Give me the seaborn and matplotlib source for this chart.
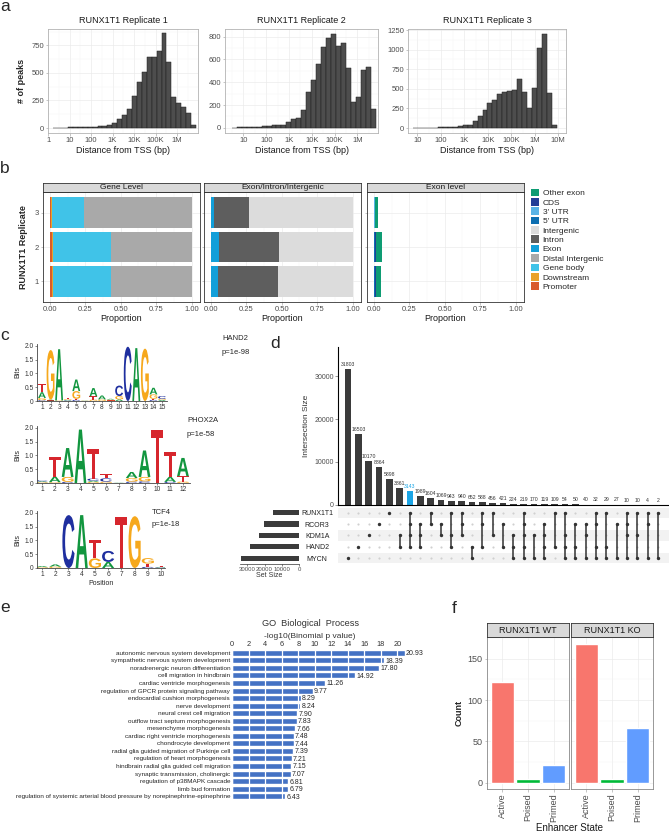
import numpy as np
import pandas as pd
import matplotlib
matplotlib.use("Agg")
import matplotlib.pyplot as plt
from matplotlib.ticker import AutoMinorLocator
from matplotlib.textpath import TextPath
from matplotlib.patches import PathPatch, Patch
from matplotlib.font_manager import FontProperties
from matplotlib.transforms import Affine2D
import seaborn as sns

# ---------------- data ----------------
# a: distance of peaks from TSS (counts per log10 bin)
rep1_counts = [2, 3, 4, 6, 7, 8, 9, 10, 12, 14, 20, 30, 50, 80, 120, 170, 290, 415,
               510, 645, 640, 695, 860, 600, 280, 225, 190, 135, 25]
rep2_counts = [3, 4, 5, 6, 8, 9, 12, 15, 26, 23, 29, 47, 82, 88, 160, 315, 417, 563,
               708, 790, 825, 717, 745, 520, 227, 270, 505, 533, 165]
rep3_counts = [2, 3, 4, 5, 6, 8, 9, 13, 17, 25, 34, 42, 85, 148, 225, 322, 352, 436,
               458, 470, 479, 627, 466, 254, 508, 1025, 1200, 450, 34]
rep_log_range = [(0.23, 6.89), (0.49, 6.80), (0.83, 6.93)]
tss_labels = ["1", "10", "100", "1K", "10K", "100K", "1M", "10M"]

# b: genomic annotation proportions (replicate 1, 2, 3)
replicates = [1, 2, 3]
gene_promoter = [0.016, 0.016, 0.010]
gene_downstream = [0.006, 0.007, 0.004]
gene_body = [0.408, 0.407, 0.226]
gene_distal = [0.570, 0.570, 0.760]
eii_exon = [0.050, 0.055, 0.020]
eii_intron = [0.425, 0.425, 0.250]
eii_intergenic = [0.525, 0.520, 0.730]
exl_utr5 = [0.004, 0.004, 0.003]
exl_utr3 = [0.003, 0.003, 0.002]
exl_cds = [0.005, 0.006, 0.003]
exl_other = [0.038, 0.042, 0.017]

# c: motif logos, letters stacked bottom -> top (bits)
hand2_motif = [
    [("C", 0.03), ("G", 0.08), ("A", 0.21), ("T", 0.30)],
    [("T", 0.02), ("A", 0.03), ("G", 1.80)],
    [("G", 0.02), ("A", 1.86)],
    [("C", 0.02), ("A", 0.02), ("G", 0.03), ("T", 0.03)],
    [("C", 0.04), ("T", 0.04), ("G", 0.28), ("A", 0.42)],
    [("A", 0.01), ("G", 0.01)],
    [("G", 0.05), ("T", 0.12), ("A", 0.30)],
    [("G", 0.06), ("A", 0.14)],
    [("T", 0.02), ("G", 0.03), ("A", 0.03)],
    [("A", 0.06), ("G", 0.12), ("C", 0.38)],
    [("C", 1.97)],
    [("A", 1.92)],
    [("G", 1.90)],
    [("C", 0.04), ("T", 0.04), ("G", 0.16), ("A", 0.24)],
    [("A", 0.04), ("G", 0.04), ("C", 0.10)],
]
phox2a_motif = [
    [("G", 0.03), ("A", 0.03), ("C", 0.04)],
    [("G", 0.03), ("A", 0.20), ("T", 0.73)],
    [("C", 0.04), ("G", 0.18), ("A", 1.05)],
    [("A", 1.94)],
    [("G", 0.04), ("A", 0.04), ("C", 0.08), ("T", 1.08)],
    [("G", 0.05), ("C", 0.12), ("T", 0.15)],
    [("A", 0.01)],
    [("C", 0.05), ("G", 0.13), ("A", 0.22)],
    [("C", 0.06), ("G", 0.16), ("A", 0.96)],
    [("T", 1.94)],
    [("C", 0.04), ("A", 0.18), ("T", 0.90)],
    [("G", 0.05), ("T", 0.20), ("A", 0.66)],
]
tcf4_motif = [
    [("G", 0.03), ("A", 0.04)],
    [("G", 0.05), ("A", 0.08)],
    [("C", 1.92)],
    [("A", 1.92)],
    [("G", 0.35), ("T", 0.65)],
    [("A", 0.22), ("C", 0.40)],
    [("T", 1.85)],
    [("G", 1.88)],
    [("C", 0.04), ("T", 0.12), ("G", 0.20)],
    [("C", 0.02), ("A", 0.02), ("T", 0.02)],
]
motif_names = ["HAND2", "PHOX2A", "TCF4"]
motif_pvals = ["p=1e-98", "p=1e-58", "p=1e-18"]

# d: UpSet intersections
set_names = ["RUNX1T1", "RCOR3", "KDM1A", "HAND2", "MYCN"]
set_codes = "RCKHM"
set_sizes = [14900, 20100, 23000, 28300, 33500]
combos = ["M", "H", "K", "C", "R", "KH", "RCKH", "CKH", "RC", "CK", "RKH", "RCK", "HM",
          "RCH", "RK", "CH", "KHM", "RCKHM", "KM", "CKHM", "RH", "RKHM", "CHM", "CKM",
          "RCHM", "RHM", "CM", "RCKM", "RKM", "RCM", "RM"]
inter_sizes = [31803, 16503, 10170, 8864, 5898, 3861, 3143, 1989, 1604, 1069, 943, 940,
               652, 588, 456, 421, 224, 219, 170, 119, 109, 54, 50, 40, 32, 29, 27, 10,
               10, 4, 2]
highlight = "RCKH"

# e: GO biological process
go_terms = ["autonomic nervous system development",
            "sympathetic nervous system development",
            "noradrenergic neuron differentiation",
            "cell migration in hindbrain",
            "cardiac ventricle morphogenesis",
            "regulation of GPCR protein signaling pathway",
            "endocardial cushion morphogenesis",
            "nerve development",
            "neural crest cell migration",
            "outflow tract septum morphogenesis",
            "mesenchyme morphogenesis",
            "cardiac right ventricle morphogenesis",
            "chondrocyte development",
            "radial glia guided migration of Purkinje cell",
            "regulation of heart morphogenesis",
            "hindbrain radial glia guided cell migration",
            "synaptic transmission, cholinergic",
            "regulation of p38MAPK cascade",
            "limb bud formation",
            "regulation of systemic arterial blood pressure by norepinephrine-epinephrine"]
go_values = [20.93, 18.39, 17.80, 14.92, 11.26, 9.77, 8.29, 8.24, 7.90, 7.83, 7.66,
             7.48, 7.44, 7.39, 7.21, 7.15, 7.07, 6.81, 6.79, 6.43]

# f: enhancer states
enh_states = ["Active", "Poised", "Primed"]
wt_counts = [122, 5, 22]
ko_counts = [168, 5, 66]

# ---------------- style ----------------
sns.set_theme(style="white")
plt.rcParams["font.family"] = ["Liberation Sans", "DejaVu Sans"]
plt.rcParams["axes.unicode_minus"] = False

W, H = 669, 833
fig = plt.figure(figsize=(W / 100, H / 100), dpi=100)


def add_ax(x0, y0, x1, y1, **kw):
    return fig.add_axes([x0 / W, 1 - y1 / H, (x1 - x0) / W, (y1 - y0) / H], **kw)


def gg(ax, edge="#B3B3B3", lw=0.6):
    ax.set_facecolor("white")
    ax.grid(True, which="major", color="#EBEBEB", lw=0.5)
    ax.grid(True, which="minor", color="#F4F4F4", lw=0.3)
    ax.set_axisbelow(True)
    for s in ax.spines.values():
        s.set_visible(True)
        s.set_color(edge)
        s.set_linewidth(lw)
    ax.tick_params(which="major", length=1.8, width=0.4, color="#999999",
                   labelsize=5.5, labelcolor="#4D4D4D", pad=1, bottom=True, left=True)
    ax.tick_params(which="minor", length=0)


def strip(x0, y0, x1, y1, text, size=6):
    s = add_ax(x0, y0, x1, y1)
    s.set_facecolor("#D9D9D9")
    s.set_xticks([])
    s.set_yticks([])
    for sp in s.spines.values():
        sp.set_color("#333333")
        sp.set_linewidth(0.6)
    s.text(0.5, 0.45, text, ha="center", va="center", fontsize=size, color="#1A1A1A",
           transform=s.transAxes)


def panel_label(x, y, t):
    fig.text(x / W, 1 - y / H, t, fontsize=12.5, ha="left", va="baseline")


panel_label(0, 11, "a")
panel_label(0, 173, "b")
panel_label(0, 340, "c")
panel_label(270, 348, "d")
panel_label(0, 612, "e")
panel_label(452, 613, "f")

# ---------------- a ----------------
a_boxes = [(48, 198), (225, 378), (408, 566)]
a_xlims = [(-0.01, 6.98), (0.19, 6.9), (0.6, 7.33)]
a_xticks = [list(range(0, 7)), list(range(1, 7)), list(range(1, 8))]
a_yticks = [[0, 250, 500, 750], [0, 200, 400, 600, 800], [0, 250, 500, 750, 1000, 1250]]
a_ylims = [(-45, 898), (-45, 866), (-63, 1263)]
for i, counts in enumerate([rep1_counts, rep2_counts, rep3_counts]):
    x0, x1 = a_boxes[i]
    ax = add_ax(x0, 29, x1, 133)
    lo, hi = rep_log_range[i]
    step = (hi - lo) / len(counts)
    hist_df = pd.DataFrame({"log_dist": lo + step * (np.arange(len(counts)) + 0.5),
                            "n": counts})
    sns.histplot(data=hist_df, x="log_dist", weights="n", bins=len(counts),
                 binrange=(lo, hi), ax=ax, color="#4D4D4D", edgecolor="#1F1F1F",
                 linewidth=0.35, alpha=1)
    gg(ax)
    ax.set_xlim(*a_xlims[i])
    ax.set_ylim(*a_ylims[i])
    ax.set_xticks(a_xticks[i])
    ax.set_xticklabels([tss_labels[t] for t in a_xticks[i]])
    ax.set_yticks(a_yticks[i])
    ax.xaxis.set_minor_locator(AutoMinorLocator(2))
    ax.yaxis.set_minor_locator(AutoMinorLocator(2))
    ax.set_title(f"RUNX1T1 Replicate {i + 1}", fontsize=6.5, pad=4, color="#1A1A1A")
    ax.set_xlabel("Distance from TSS (bp)", fontsize=6.5, labelpad=1.5, color="#1A1A1A")
    if i == 0:
        ax.set_ylabel("# of peaks", fontsize=6.5, fontweight="bold", labelpad=4)
    else:
        ax.set_ylabel("")

# ---------------- b ----------------
b_colors = {"Other exon": "#0E9C73", "CDS": "#233E97", "3' UTR": "#58B3E6",
            "5' UTR": "#0C6EB1", "Intergenic": "#DCDCDC", "Intron": "#5E5E5E",
            "Exon": "#129FD9", "Distal Intergenic": "#A9A9A9", "Gene body": "#40C3E8",
            "Downstream": "#E8A12B", "Promoter": "#D95B2C"}
b_facets = [
    ("Gene Level", (43, 200), [("Promoter", gene_promoter), ("Downstream", gene_downstream),
                               ("Gene body", gene_body), ("Distal Intergenic", gene_distal)]),
    ("Exon/Intron/Intergenic", (204, 361), [("Exon", eii_exon), ("Intron", eii_intron),
                                            ("Intergenic", eii_intergenic)]),
    ("Exon level", (367, 524), [("5' UTR", exl_utr5), ("3' UTR", exl_utr3),
                                ("CDS", exl_cds), ("Other exon", exl_other)]),
]
for k, (title, (x0, x1), stack) in enumerate(b_facets):
    ax = add_ax(x0, 192, x1, 302)
    left = np.zeros(len(replicates))
    for name, vals in stack:
        ax.barh(replicates, vals, left=left, height=0.9, color=b_colors[name], lw=0)
        left += np.array(vals)
    gg(ax, edge="#333333")
    ax.set_xlim(-0.05, 1.06)
    ax.set_ylim(0.4, 3.6)
    ax.set_xticks([0, 0.25, 0.5, 0.75, 1.0])
    ax.set_xticklabels(["0.00", "0.25", "0.50", "0.75", "1.00"])
    ax.xaxis.set_minor_locator(AutoMinorLocator(2))
    ax.set_yticks(replicates)
    if k == 0:
        ax.set_yticklabels([str(r) for r in replicates])
        ax.set_ylabel("RUNX1T1 Replicate", fontsize=6.5, fontweight="bold", labelpad=5)
    else:
        ax.set_yticklabels([])
    ax.set_xlabel("Proportion", fontsize=6.5, labelpad=1, color="#1A1A1A")
    strip(x0, 183, x1, 192, title)

legend_order = ["Other exon", "CDS", "3' UTR", "5' UTR", "Intergenic", "Intron", "Exon",
                "Distal Intergenic", "Gene body", "Downstream", "Promoter"]
handles = [Patch(facecolor=b_colors[n], edgecolor="none", label=n) for n in legend_order]
fig.legend(handles=handles, loc="upper left", bbox_to_anchor=(531 / W, 1 - 188.5 / H),
           frameon=False, fontsize=6, handlelength=1.0, handleheight=1.05,
           handletextpad=0.4, labelspacing=0.08, borderpad=0, borderaxespad=0)

# ---------------- c ----------------
base_colors = {"A": "#12963F", "C": "#1F2F9F", "G": "#F6A81C", "T": "#D6262D"}
logo_font = FontProperties(family="Liberation Sans", weight="bold")


def draw_letter(ax, letter, x, y, h, w=0.92):
    tp = TextPath((0, 0), letter, size=1, prop=logo_font)
    bb = tp.get_extents()
    tr = (Affine2D().translate(-bb.x0, -bb.y0)
          .scale(w / bb.width, h / bb.height)
          .translate(x - w / 2, y))
    ax.add_patch(PathPatch(tr.transform_path(tp), facecolor=base_colors[letter], lw=0))


logo_boxes = [((37, 167), (344, 401), (0.42, 15.58)),
              ((37, 190), (426, 483), (0.61, 12.55)),
              ((37, 165), (511, 568), (0.62, 10.30))]
logo_text_pos = [(222, 339, 353), (187, 420, 434), (152, 512, 525)]
for m, motif in enumerate([hand2_motif, phox2a_motif, tcf4_motif]):
    (x0, x1), (y0, y1), xl = logo_boxes[m]
    ax = add_ax(x0, y0, x1, y1)
    ax.set_facecolor("none")
    for pos, stack in enumerate(motif, start=1):
        y = 0.0
        for letter, h in stack:
            draw_letter(ax, letter, pos, y, h)
            y += h
    ax.set_xlim(*xl)
    ax.set_ylim(0, 2.07)
    ax.set_xticks(range(1, len(motif) + 1))
    ax.set_yticks([0, 0.5, 1.0, 1.5, 2.0])
    ax.set_yticklabels(["0", "0.5", "1.0", "1.5", "2.0"])
    for s in ["top", "right"]:
        ax.spines[s].set_visible(False)
    for s in ["left", "bottom"]:
        ax.spines[s].set_color("#444444")
        ax.spines[s].set_linewidth(0.6)
    ax.tick_params(length=1.5, width=0.4, labelsize=4.8, pad=1, colors="#333333",
                   bottom=True, left=True)
    ax.set_ylabel("Bits", fontsize=5, labelpad=2)
    if m == 2:
        ax.set_xlabel("Position", fontsize=5, labelpad=1)
    tx, ty1, ty2 = logo_text_pos[m]
    fig.text(tx / W, 1 - ty1 / H, motif_names[m], fontsize=5.5, va="center")
    fig.text(tx / W, 1 - ty2 / H, motif_pvals[m], fontsize=5.5, va="center")

# ---------------- d ----------------
ncol = len(combos)
ax_d = add_ax(338, 347, 669, 504.7)
bar_cols = ["#1AA5E6" if c == highlight else "#3B3B3B" for c in combos]
ax_d.bar(range(ncol), inter_sizes, width=0.65, color=bar_cols, lw=0)
ax_d.set_xlim(-0.97, ncol + 0.07)
ax_d.set_ylim(0, 36900)
for s in ["top", "right"]:
    ax_d.spines[s].set_visible(False)
for s in ["left", "bottom"]:
    ax_d.spines[s].set_color("black")
    ax_d.spines[s].set_linewidth(0.8)
ax_d.set_xticks([])
ax_d.set_yticks([0, 10000, 20000, 30000])
ax_d.tick_params(axis="y", length=2, width=0.4, labelsize=5, labelcolor="#4D4D4D",
                 color="#4D4D4D", pad=1, left=True)
ax_d.set_ylabel("Intersection Size", fontsize=6, color="#333333", labelpad=3)
for j, v in enumerate(inter_sizes):
    ax_d.text(j, v + 500, str(v), ha="center", va="bottom", fontsize=3.7,
              color="#1AA5E6" if combos[j] == highlight else "#333333")

ax_m = add_ax(338, 506, 669, 564)
for r in range(0, len(set_names), 2):
    ax_m.axhspan(r - 0.45, r + 0.45, color="#F2F2F2", lw=0, zorder=0)
gx, gy = np.meshgrid(np.arange(ncol), np.arange(len(set_names)))
ax_m.scatter(gx.ravel(), gy.ravel(), s=2.4, color="#D0D0D0", lw=0, zorder=1)
for j, c in enumerate(combos):
    rows = [set_codes.index(ch) for ch in c]
    if len(rows) > 1:
        ax_m.plot([j, j], [min(rows), max(rows)], color="#333333", lw=1.1, zorder=2)
    ax_m.scatter([j] * len(rows), rows, s=6, color="#333333", lw=0, zorder=3)
ax_m.set_xlim(-0.97, ncol + 0.07)
ax_m.set_ylim(4.52, -0.59)
ax_m.set_xticks([])
ax_m.set_yticks(range(len(set_names)))
ax_m.set_yticklabels(set_names)
ax_m.tick_params(axis="y", length=0, labelsize=5, labelcolor="#222222", pad=15)
for t in ax_m.get_yticklabels():
    t.set_ha("center")
for s in ax_m.spines.values():
    s.set_visible(False)
ax_m.set_facecolor("none")

ax_s = add_ax(240, 506, 299.3, 564)
ax_s.barh(range(len(set_names)), set_sizes, height=0.45, color="#3B3B3B", lw=0)
ax_s.set_ylim(4.52, -0.59)
ax_s.set_xlim(34100, 0)
ax_s.set_yticks([])
ax_s.set_xticks([0, 10000, 20000, 30000])
ax_s.tick_params(axis="x", length=1.5, width=0.4, labelsize=4.3, labelcolor="#4D4D4D",
                 pad=0.5, bottom=True)
for s in ["top", "right", "left"]:
    ax_s.spines[s].set_visible(False)
ax_s.spines["bottom"].set_color("#333333")
ax_s.spines["bottom"].set_linewidth(0.5)
ax_s.set_xlabel("Set Size", fontsize=5, labelpad=0.5, color="#333333")
ax_s.set_facecolor("none")

# ---------------- e ----------------
ax_e = add_ax(232.3, 649, 420, 800)
sns.barplot(x=go_values, y=go_terms, orient="h", color="#4472C4", saturation=1,
            width=0.8, ax=ax_e)
ax_e.set_ylim(19.5, -0.5)
ax_e.set_xlim(0, (420 - 232.3) / 8.25)
ax_e.xaxis.tick_top()
ax_e.set_xticks(range(0, 21, 2))
ax_e.tick_params(axis="x", length=0, labelsize=5.3, pad=0.5, labelcolor="#333333")
ax_e.tick_params(axis="y", length=0, labelsize=4.6, pad=1.5, labelcolor="#262626")
ax_e.grid(axis="x", color="white", lw=0.9)
ax_e.set_axisbelow(False)
for s in ax_e.spines.values():
    s.set_visible(False)
ax_e.set_xlabel("")
ax_e.set_ylabel("")
for i, v in enumerate(go_values):
    ax_e.text(v + 0.12, i + 0.12, f"{v:.2f}", fontsize=5, va="center", color="#262626")
fig.text(310 / W, 1 - 623 / H, "GO  Biological  Process", fontsize=6.6, ha="center",
         va="center", color="#333333")
fig.text(310 / W, 1 - 636 / H, "-log10(Binomial p value)", fontsize=6, ha="center",
         va="center", color="#333333")

# ---------------- f ----------------
f_palette = ["#F8766D", "#00BA38", "#619CFF"]
for k, (title, counts, (x0, x1)) in enumerate([("RUNX1T1 WT", wt_counts, (486.7, 569.3)),
                                                ("RUNX1T1 KO", ko_counts, (570.7, 653.3))]):
    ax = add_ax(x0, 636.7, x1, 789)
    sns.barplot(x=enh_states, y=counts, hue=enh_states, palette=f_palette, width=0.9,
                saturation=1, legend=False, ax=ax)
    gg(ax, edge="#888888")
    ax.set_xlim(-0.6, 2.6)
    ax.set_ylim(-7.6, 176.6)
    ax.set_yticks([0, 50, 100, 150])
    ax.yaxis.set_minor_locator(AutoMinorLocator(2))
    ax.tick_params(labelsize=6.5)
    ax.tick_params(axis="x", labelrotation=90)
    ax.set_xlabel("")
    if k == 0:
        ax.set_ylabel("Count", fontsize=6.5, fontweight="bold", labelpad=3)
    else:
        ax.set_ylabel("")
        ax.set_yticklabels([])
        ax.tick_params(axis="y", length=0)
    strip(x0, 622.7, x1, 636.7, title, size=6.5)
fig.text(570 / W, 1 - 828 / H, "Enhancer State", fontsize=7, ha="center", va="center",
         color="#1A1A1A")

fig.savefig("out.png", dpi=100)
